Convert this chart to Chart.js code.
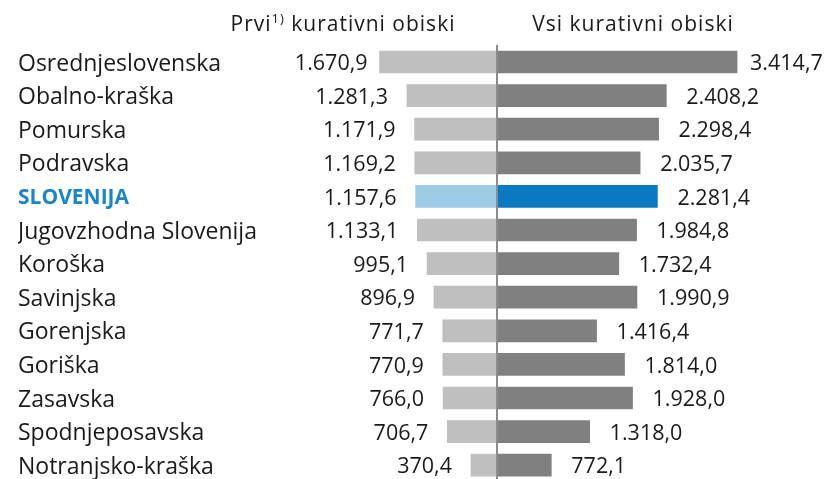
<!DOCTYPE html>
<html><head><meta charset="utf-8">
<script src="https://cdn.jsdelivr.net/npm/chart.js@4"></script>
<style>html,body{margin:0;padding:0;background:#fff}#wrap{width:828px;height:479px}</style>
</head><body><div id="wrap"><canvas id="c" width="828" height="479"></canvas></div>
<script>
const regions = ["Osrednjeslovenska","Obalno-kraška","Pomurska","Podravska","SLOVENIJA","Jugovzhodna Slovenija","Koroška","Savinjska","Gorenjska","Goriška","Zasavska","Spodnjeposavska","Notranjsko-kraška"];
const firstVisits = [1670.9,1281.3,1171.9,1169.2,1157.6,1133.1,995.1,896.9,771.7,770.9,766.0,706.7,370.4];
const allVisits = [3414.7,2408.2,2298.4,2035.7,2281.4,1984.8,1732.4,1990.9,1416.4,1814.0,1928.0,1318.0,772.1];
const titleLeft = "Prvi";
const titleLeftSup = "1)";
const titleLeftRest = " kurativni obiski";
const titleRight = "Vsi kurativni obiski";
const highlight = "SLOVENIJA";

const FONT = "'Open Sans', sans-serif";
const fmt = v => {
  const parts = v.toFixed(1).split('.');
  return parts[0].replace(/\B(?=(\d{3})+(?!\d))/g, '.') + ',' + parts[1];
};
const isHi = i => regions[i] === highlight;

const overlay = {
  id: 'overlay',
  afterDatasetsDraw(chart) {
    const ctx = chart.ctx;
    const x = chart.scales.x, y = chart.scales.y;
    const x0 = x.getPixelForValue(0);
    ctx.save();
    // center line
    ctx.strokeStyle = '#8c8c8c';
    ctx.lineWidth = 2;
    ctx.beginPath();
    ctx.moveTo(x0, 45);
    ctx.lineTo(x0, chart.height);
    ctx.stroke();
    // value labels
    ctx.fillStyle = '#1a1a1a';
    ctx.font = "21.5px " + FONT;
    ctx.textBaseline = 'middle';
    regions.forEach((r, i) => {
      const yp = y.getPixelForValue(i) + 2;
      const xl = x.getPixelForValue(-firstVisits[i]);
      const xr = x.getPixelForValue(allVisits[i]);
      const off = i === 0 ? 12 : 19;
      ctx.textAlign = 'right';
      ctx.fillText(fmt(firstVisits[i]), xl - off, yp);
      ctx.textAlign = 'left';
      ctx.fillText(fmt(allVisits[i]), xr + off + 1, yp);
    });
    // titles
    ctx.textBaseline = 'alphabetic';
    ctx.textAlign = 'left';
    ctx.letterSpacing = '1px';
    const ty = 31;
    const big = "21px " + FONT, small = "13px " + FONT;
    ctx.font = big;
    const w1 = ctx.measureText(titleLeft).width;
    const w3 = ctx.measureText(titleLeftRest).width;
    ctx.font = small;
    const w2 = ctx.measureText(titleLeftSup).width;
    let tx = 343 - (w1 + w2 + w3) / 2;
    ctx.font = big;
    ctx.fillText(titleLeft, tx, ty);
    tx += w1;
    ctx.font = small;
    ctx.fillText(titleLeftSup, tx, ty - 8);
    tx += w2;
    ctx.font = big;
    ctx.fillText(titleLeftRest, tx, ty);
    ctx.textAlign = 'center';
    ctx.fillText(titleRight, 633, ty);
    ctx.restore();
  }
};

new Chart(document.getElementById('c'), {
  type: 'bar',
  data: {
    labels: regions,
    datasets: [
      {
        label: titleLeft + titleLeftRest,
        data: firstVisits.map(v => -v),
        backgroundColor: regions.map((r, i) => isHi(i) ? '#9dcbe6' : '#bfbfbf'),
        borderWidth: 0,
        barThickness: 22, clip: false
      },
      {
        label: titleRight,
        data: allVisits,
        backgroundColor: regions.map((r, i) => isHi(i) ? '#0a7bc2' : '#808080'),
        borderWidth: 0,
        barThickness: 22, clip: false
      }
    ]
  },
  options: {
    indexAxis: 'y',
    responsive: false,
    animation: false,
    layout: { padding: { left: 18, top: 62, bottom: 12, right: 0 } },
    plugins: { legend: { display: false }, tooltip: { enabled: false } },
    scales: {
      x: {
        display: false, stacked: true,
        min: -2944.5, max: 4708
      },
      y: {
        stacked: true,
        offset: false,
        grid: { display: false, drawTicks: false },
        border: { display: false },
        afterFit(s) { s.width = 272; },
        ticks: {
          crossAlign: 'far',
          padding: 0,
          labelOffset: 2,
          autoSkip: false,
          color: c => isHi(c.index) ? '#1a85c8' : '#1a1a1a',
          font: c => isHi(c.index) ? { family: FONT, size: 21, weight: 'bold' } : { family: FONT, size: 23 }
        }
      }
    }
  },
  plugins: [overlay]
});
</script>
</body></html>
